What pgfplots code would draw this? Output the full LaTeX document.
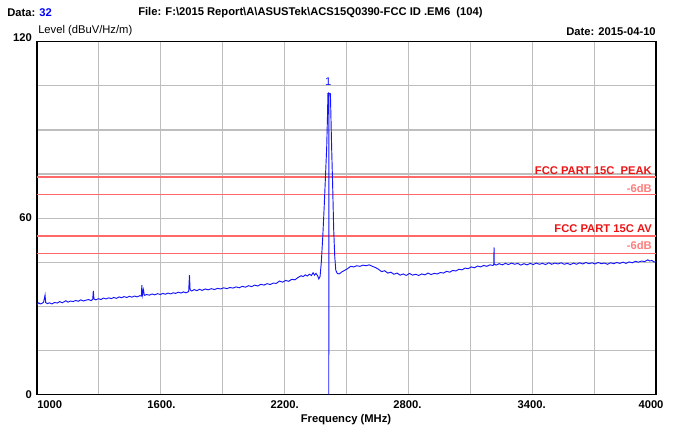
\documentclass[border=0pt]{standalone}
\usepackage{fontspec}
\setmainfont{Liberation Sans}
\usepackage{pgfplots}
\pgfplotsset{compat=1.18}

\definecolor{trace}{RGB}{20,20,255}
\definecolor{limitred}{RGB}{255,105,105}
\definecolor{lbred}{RGB}{235,20,20}
\definecolor{lbpink}{RGB}{255,125,125}
\definecolor{gridgray}{RGB}{190,190,190}
\newcommand\lbl{\fontsize{8.4}{10}\selectfont\bfseries}
\newcommand\lblr{\fontsize{8.4}{10}\selectfont}

\begin{document}
\begin{tikzpicture}
\begin{axis}[
  at={(27.75pt,-295.875pt)}, anchor=south west,
  scale only axis, width=464.25pt, height=264.6pt,
  xmin=1000, xmax=4000, ymin=0, ymax=120,
  xtick={1000,1300,...,4000}, ytick={0,15,...,120},
  xticklabels={}, yticklabels={},
  major tick length=0pt,
  grid=major,
  major grid style={gridgray, line width=0.9pt},
  axis line style={black, line width=1pt},
]
% limit lines
\addplot[limitred, line width=1.4pt] coordinates {(1000,74) (4000,74)};
\addplot[limitred, line width=0.8pt] coordinates {(1000,68) (4000,68)};
\addplot[limitred, line width=1.4pt] coordinates {(1000,54) (4000,54)};
\addplot[limitred, line width=0.8pt] coordinates {(1000,48) (4000,48)};
% measured trace
\addplot[trace, line width=0.7pt] coordinates {
(1000,30.6) (1008,31.2) (1016,30.8) (1024,31.0) (1032,31.4) (1039,33.8) (1042,31.3)
(1050,30.9) (1060,31.2) (1072,30.8) (1085,31.3) (1098,31.1) (1110,31.6) (1122,31.2)
(1130,31.5) (1140,31.9) (1150,31.4) (1162,31.8) (1175,31.6) (1188,32.0) (1200,31.7)
(1212,32.2) (1225,31.8) (1238,32.1) (1250,32.3) (1262,31.9) (1270,32.4) (1273,35.2)
(1276,32.5) (1285,32.2) (1298,32.6) (1310,32.3) (1322,32.8) (1335,32.5) (1348,32.9)
(1360,32.6) (1372,33.0) (1385,32.7) (1398,33.2) (1410,32.9) (1422,33.3) (1435,33.0)
(1448,33.4) (1460,33.1) (1472,33.5) (1485,33.2) (1498,33.6) (1506,33.5) (1508,37.2)
(1511,33.8) (1516,35.6) (1520,33.7) (1530,34.0) (1545,33.8) (1558,34.2) (1570,33.9)
(1585,34.3) (1598,34.0) (1610,34.4) (1622,34.1) (1635,34.5) (1648,34.2) (1660,34.6)
(1672,34.4) (1685,34.8) (1698,34.5) (1710,34.9) (1722,34.6) (1735,35.0) (1739,40.6)
(1742,35.6) (1750,35.2) (1762,35.7) (1775,35.3) (1788,35.8) (1800,35.4) (1815,35.9)
(1830,35.6) (1845,36.0) (1860,35.7) (1875,36.1) (1890,35.9) (1905,36.3) (1920,36.0)
(1935,36.4) (1950,36.2) (1965,36.6) (1980,36.3) (1995,36.8) (2010,36.5) (2025,37.0)
(2040,36.7) (2055,37.2) (2070,36.9) (2085,37.5) (2100,37.2) (2115,37.7) (2130,37.4)
(2145,37.9) (2160,37.8) (2175,38.6) (2190,38.2) (2205,38.8) (2220,38.5) (2235,39.2)
(2250,39.0) (2265,39.8) (2280,40.4) (2290,40.1) (2300,40.7) (2310,40.3) (2320,40.9)
(2330,40.5) (2338,41.4) (2345,40.6) (2352,41.2) (2360,40.4) (2366,39.3) (2372,40.2)
(2378,45.0) (2385,53.7) (2392,64.0) (2398,74.0) (2404,84.0) (2408,95.0) (2410,102.4)
(2414,102.6) (2414,0) (2415,102.4) (2422,102.3) (2426,90.0) (2428,84.0) (2433,70.7)
(2438,56.0) (2443,47.0) (2448,42.3) (2455,41.2) (2465,41.0) (2475,41.6) (2490,42.2)
(2505,42.8) (2520,43.6) (2535,43.4) (2550,43.8) (2565,43.6) (2580,44.0) (2595,43.8)
(2610,44.1) (2625,43.6) (2640,43.2) (2655,42.6) (2670,41.8) (2685,42.1) (2700,41.3)
(2715,41.6) (2730,40.9) (2745,41.3) (2760,40.6) (2775,41.0) (2790,40.5) (2805,41.2)
(2820,40.6) (2835,40.9) (2850,40.5) (2865,41.0) (2880,40.7) (2895,41.3) (2910,40.8)
(2925,41.2) (2940,41.0) (2955,41.5) (2970,41.3) (2985,41.9) (3000,41.6) (3015,42.2)
(3030,42.0) (3045,42.6) (3060,42.4) (3075,43.0) (3090,42.8) (3105,43.4) (3120,43.1)
(3135,43.7) (3150,43.4) (3165,43.9) (3180,43.6) (3195,44.1) (3210,43.9) (3214,44.2)
(3215,50.0) (3216,44.4) (3225,44.0) (3240,44.5) (3255,44.1) (3270,44.6) (3285,44.2)
(3300,44.7) (3315,44.3) (3330,44.6) (3345,44.0) (3360,44.5) (3375,44.1) (3390,44.6)
(3405,44.2) (3420,44.7) (3435,44.3) (3450,44.6) (3465,44.2) (3480,44.8) (3495,44.3)
(3510,44.7) (3525,44.4) (3540,44.8) (3555,44.3) (3570,44.6) (3585,44.2) (3600,44.7)
(3615,44.3) (3630,44.8) (3645,44.4) (3660,44.9) (3675,44.5) (3690,44.8) (3705,44.4)
(3720,44.9) (3735,44.5) (3750,44.7) (3765,44.3) (3780,44.8) (3795,44.5) (3810,44.9)
(3825,44.6) (3840,45.0) (3855,44.6) (3870,45.1) (3885,44.8) (3900,45.3) (3915,45.0)
(3930,45.4) (3945,45.2) (3960,45.8) (3970,45.4) (3980,45.6) (3990,45.1) (4000,45.2)
};
\node[trace, font=\lblr, inner sep=0pt] at (axis cs:2412,106.4) {1};
\end{axis}

% labels, positions in pixels from the top left corner
\begin{scope}[x=0.75pt, y=-0.75pt, inner sep=0pt]
\node[anchor=west, font=\lbl] at (7,13) {Data: \textcolor{blue}{32}};
\node[anchor=west, font=\lbl] at (138,13) {File: F:\textbackslash 2015 Report\textbackslash A\textbackslash ASUSTek\textbackslash ACS15Q0390-FCC ID .EM6~~(104)};
\node[anchor=west, font=\lblr] at (38,31) {Level (dBuV/Hz/m)};
\node[anchor=east, font=\lbl] at (656,32) {Date: 2015-04-10};
% y tick labels
\node[anchor=east, font=\lbl] at (32,38) {120};
\node[anchor=east, font=\lbl] at (32,218) {60};
\node[anchor=east, font=\lbl] at (32,395) {0};
% x tick labels
\node[anchor=west, font=\lbl] at (37,404.5) {1000};
\node[font=\lbl] at (161.5,404.5) {1600.};
\node[font=\lbl] at (284.7,404.5) {2200.};
\node[font=\lbl] at (407.5,404.5) {2800.};
\node[font=\lbl] at (531.7,404.5) {3400.};
\node[font=\lbl] at (651,404.5) {4000};
\node[font=\lbl] at (346,419.5) {Frequency (MHz)};
% limit labels
\node[anchor=east, font=\lbl, text=lbred] at (652,171) {FCC PART 15C~~PEAK};
\node[anchor=east, font=\lbl, text=lbpink] at (652,188.3) {-6dB};
\node[anchor=east, font=\lbl, text=lbred] at (652,228.3) {FCC PART 15C AV};
\node[anchor=east, font=\lbl, text=lbpink] at (652,245) {-6dB};
\pgfresetboundingbox
\path (0,0) rectangle (678,428);
\end{scope}
\end{tikzpicture}
\end{document}
